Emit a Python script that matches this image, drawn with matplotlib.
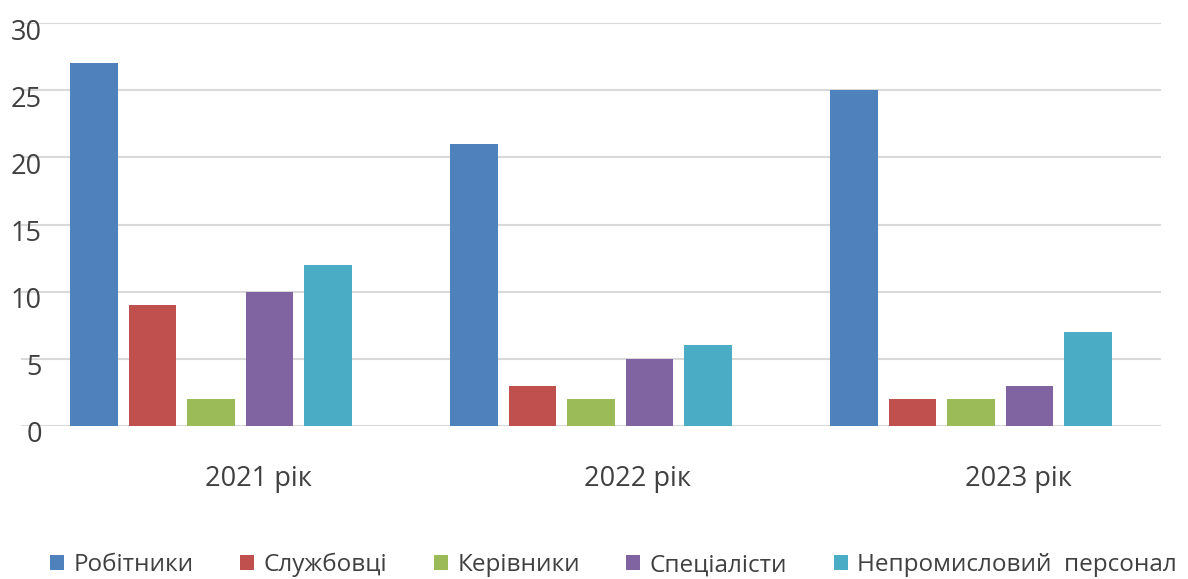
import numpy as np
import matplotlib.pyplot as plt
from matplotlib.transforms import ScaledTranslation

plt.rcParams['font.family'] = ['Open Sans', 'DejaVu Sans']

years = ['2021 рік', '2022 рік', '2023 рік']
series_names = ['Робітники', 'Службовці', 'Керівники', 'Спеціалісти', 'Непромисловий  персонал']
robitnyky = [27, 21, 25]
sluzhbovtsi = [9, 3, 2]
kerivnyky = [2, 2, 2]
spetsialisty = [10, 5, 3]
nepromyslovyi = [12, 6, 7]
colors = ['#4f81bd', '#c0504d', '#9bbb59', '#8064a2', '#4bacc6']

values = [robitnyky, sluzhbovtsi, kerivnyky, spetsialisty, nepromyslovyi]

fig = plt.figure(figsize=(11.88, 5.79), dpi=100)
ax = fig.add_axes([21 / 1188, 1 - 426 / 579, 1140 / 1188, 403 / 579])

x = np.arange(len(years))
pitch = 0.154
width = 0.124
for i, (name, vals, c) in enumerate(zip(series_names, values, colors)):
    ax.bar(x + (i - 2) * pitch, vals, width=width, color=c, label=name, zorder=3)

ax.set_xlim(-0.5, 2.5)
ax.set_ylim(0, 30)
ax.set_yticks(range(0, 31, 5))
ax.yaxis.grid(True, color='#d9d9d9', linewidth=1.5, zorder=0)
for s in ax.spines.values():
    s.set_visible(False)
ax.tick_params(axis='y', length=0, labelsize=19.5, labelcolor='#404040', pad=-15)
for lbl in ax.get_yticklabels():
    lbl.set_transform(lbl.get_transform() + ScaledTranslation(0, -0.06, fig.dpi_scale_trans))

ax.set_xticks(x)
ax.set_xticklabels(years)
ax.tick_params(axis='x', length=0, labelsize=19.5, labelcolor='#404040', pad=28)
for lbl in ax.get_xticklabels():
    lbl.set_transform(lbl.get_transform() + ScaledTranslation(0.47, 0, fig.dpi_scale_trans))

fig.legend(loc='center', bbox_to_anchor=(0.5164, 1 - 565 / 579), ncol=5, frameon=False,
           fontsize=17.5, handlelength=0.58, handleheight=0.58, handletextpad=0.4,
           columnspacing=1.9, labelcolor='#404040')

fig.savefig('out.png', dpi=100, facecolor='white')
